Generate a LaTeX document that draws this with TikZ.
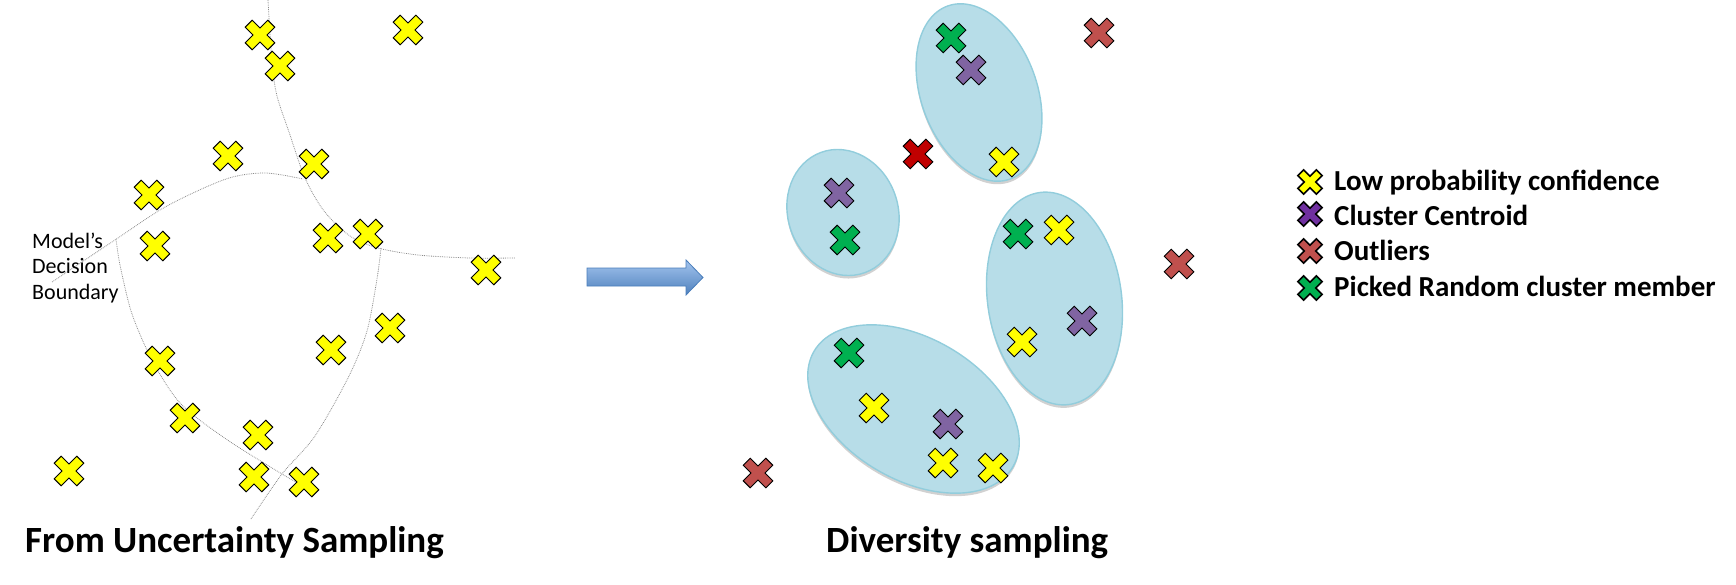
\documentclass[tikz,border=0pt]{standalone}
\usepackage{fontspec}
\setmainfont{Carlito}
\usetikzlibrary{shadows}
\definecolor{lowyel}{HTML}{FFFF00}
\definecolor{centpur}{HTML}{8064A2}
\definecolor{legpur}{HTML}{7030A0}
\definecolor{outred}{HTML}{C0504D}
\definecolor{hotred}{HTML}{C00000}
\definecolor{pickgrn}{HTML}{00B050}
\definecolor{clufill}{HTML}{B7DDE8}
\definecolor{cluline}{HTML}{92CDDC}
\definecolor{arrtop}{HTML}{A3C4EE}
\definecolor{arrbot}{HTML}{4F81BD}
\definecolor{arrline}{HTML}{4A7EBB}
\tikzset{
  xcross/.pic={\path[pic actions,rotate=45] (-5,16) -- (5,16) -- (5,5) -- (16,5) -- (16,-5) -- (5,-5) -- (5,-16) -- (-5,-16) -- (-5,-5) -- (-16,-5) -- (-16,5) -- (-5,5) -- cycle;},
  mk/.style={draw=black,line width=0.9pt},
  lowconf/.style={mk,fill=lowyel},
  centroid/.style={mk,fill=centpur},
  outlier/.style={mk,fill=outred},
  picked/.style={mk,fill=pickgrn},
  legmk/.style={draw=black,line width=1.6pt,scale=0.82},
  boundary/.style={gray!90,line width=0.8pt,densely dotted},
  cluster/.style={fill=clufill,draw=cluline,line width=1.4pt,
    drop shadow={shadow xshift=0pt,shadow yshift=-3pt,opacity=0.18,fill=black}},
  legtext/.style={anchor=base west,inner sep=0pt,font=\fontsize{29}{34}\selectfont\bfseries},
  title/.style={anchor=base west,inner sep=0pt,font=\fontsize{37}{44}\selectfont\bfseries},
}
\begin{document}
\begin{tikzpicture}[x=1pt,y=-1pt]
\useasboundingbox (0,0) rectangle (1736,585);
% decision boundary
\draw[boundary] plot[smooth] coordinates {(268,0) (272,63) (277,96) (289,132) (305,178) (324,211) (350,236) (378,248) (418,255) (470,258) (515,258)};
\draw[boundary] plot[smooth] coordinates {(52,282) (115,240) (167,206) (226,179) (265,173) (303,179)};
\draw[boundary] plot[smooth] coordinates {(116,239) (120,265) (132,314) (153,362) (181,404) (226,439) (282,474) (298,483)};
\draw[boundary] plot[smooth] coordinates {(381,248) (377,279) (367,331) (349,376) (315,436) (282,474) (251,519)};
\node[anchor=base west,inner sep=0pt,align=left,font=\fontsize{22}{25.5}\selectfont] (bnd) at (32,299) {Model’s\\Decision\\Boundary};
% uncertainty points
\foreach \px/\py in {260/35,280/66,408/30,228/156,314/164,149/195,155/246,328/238,368/234,486/270,390/328,331/350,160/361,185/418,258/435,69/471,254/477,304/482}
  \pic[lowconf] at (\px,\py) {xcross};
\node[title] (lefttitle) at (25,552) {From Uncertainty Sampling};
% block arrow
\shade[top color=arrtop,bottom color=arrbot,draw=arrline,line width=0.8pt]
  (587,268) -- (686,268) -- (686,260) -- (703,277.5) -- (686,295) -- (686,286) -- (587,286) -- cycle;
% clusters
\draw[cluster] (979,92.5) ellipse [x radius=92pt,y radius=58pt,rotate=-70];
\draw[cluster] (843,212.5) ellipse [x radius=64pt,y radius=55pt,rotate=-70];
\draw[cluster] (1054.5,298.5) ellipse [x radius=107pt,y radius=67pt,rotate=-82];
\draw[cluster] (913.5,409) ellipse [x radius=115pt,y radius=71pt,rotate=-30];
% cluster points
\foreach \px/\py in {1004/162,1059/230,1022/342,874/408,943/463,993/468}
  \pic[lowconf] at (\px,\py) {xcross};
\foreach \px/\py in {971/70,839/193,1082/321,948/424}
  \pic[centroid] at (\px,\py) {xcross};
\foreach \px/\py in {951/38,845/240,1018/234,849/353}
  \pic[picked] at (\px,\py) {xcross};
\foreach \px/\py in {1099/33,1179/264,758/473}
  \pic[outlier] at (\px,\py) {xcross};
\pic[mk,fill=hotred] at (918,154) {xcross};
\node[title] (righttitle) at (826,552) {Diversity sampling};
% legend
\pic[legmk,fill=lowyel] at (1310,182) {xcross};
\pic[legmk,fill=legpur] at (1310,214) {xcross};
\pic[legmk,fill=outred] at (1310,251) {xcross};
\pic[legmk,fill=pickgrn] at (1310,288) {xcross};
\node[legtext] (leg1) at (1334,191) {Low probability confidence};
\node[legtext] (leg2) at (1334,225.5) {Cluster Centroid};
\node[legtext] (leg3) at (1334,261) {Outliers};
\node[legtext] (leg4) at (1334,296) {Picked Random cluster member};
\end{tikzpicture}
\end{document}
